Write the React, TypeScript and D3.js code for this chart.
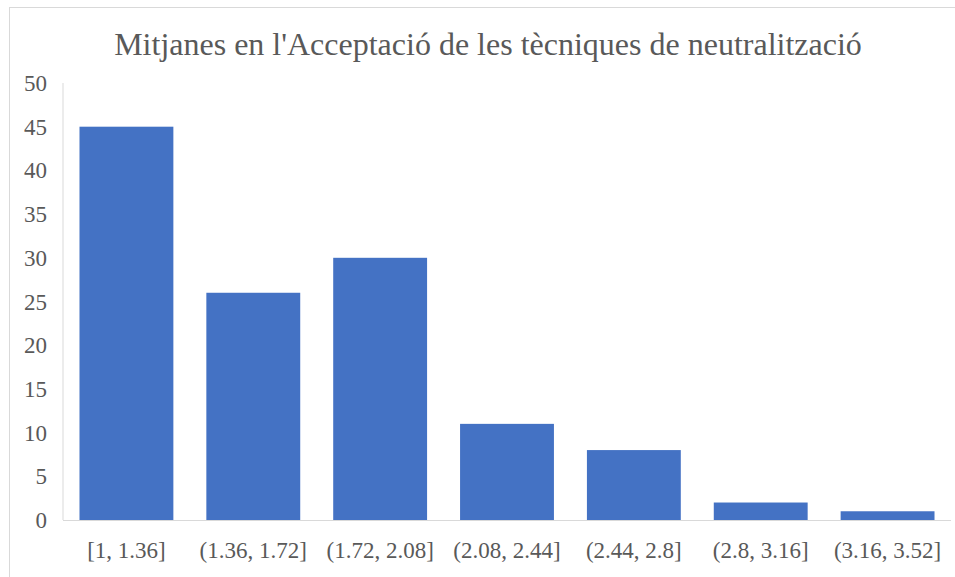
import React, { useEffect, useRef } from "react";
import * as d3 from "d3";

const categories = [
  "[1, 1.36]",
  "(1.36, 1.72]",
  "(1.72, 2.08]",
  "(2.08, 2.44]",
  "(2.44, 2.8]",
  "(2.8, 3.16]",
  "(3.16, 3.52]",
];
const counts = [45, 26, 30, 11, 8, 2, 1];
const yTicks = [0, 5, 10, 15, 20, 25, 30, 35, 40, 45, 50];

const title = "Mitjanes en l'Acceptació de les tècniques de neutralització";

const App = () => {
  const ref: any = useRef();
  const width = 955;
  const height = 577;
  const plot = { left: 63, right: 951, top: 83, bottom: 520 };

  useEffect(() => {
    const svg = d3.select(ref.current);
    svg.selectAll("*").remove();

    const font = "'Liberation Serif', 'Times New Roman', serif";
    const textColor = "#595959";

    // chart border
    svg
      .append("rect")
      .attr("x", 9.5)
      .attr("y", 7.5)
      .attr("width", width + 20)
      .attr("height", height + 20)
      .attr("fill", "#fff")
      .attr("stroke", "#d9d9d9");

    svg
      .append("text")
      .attr("x", 488)
      .attr("y", 55)
      .attr("text-anchor", "middle")
      .attr("font-family", font)
      .attr("font-size", 32)
      .attr("fill", textColor)
      .text(title);

    const xScale = d3
      .scaleBand()
      .domain(categories)
      .range([plot.left, plot.right])
      .paddingInner(0.26)
      .paddingOuter(0.13);

    const yScale = d3
      .scaleLinear()
      .domain([0, 50])
      .range([plot.bottom, plot.top]);

    // y axis line
    svg
      .append("line")
      .attr("x1", plot.left)
      .attr("x2", plot.left)
      .attr("y1", plot.top)
      .attr("y2", plot.bottom)
      .attr("stroke", "#d9d9d9");

    const data = categories.map((c, i) => ({ name: c, value: counts[i] }));

    svg
      .append("g")
      .selectAll("rect")
      .data(data)
      .join("rect")
      .attr("x", (d) => xScale(d.name) || 0)
      .attr("y", (d) => yScale(d.value))
      .attr("width", xScale.bandwidth())
      .attr("height", (d) => yScale(0) - yScale(d.value))
      .attr("fill", "#4472c4");

    // x axis line
    svg
      .append("line")
      .attr("x1", plot.left)
      .attr("x2", plot.right)
      .attr("y1", plot.bottom + 0.5)
      .attr("y2", plot.bottom + 0.5)
      .attr("stroke", "#d9d9d9");

    svg
      .append("g")
      .selectAll("text")
      .data(yTicks)
      .join("text")
      .attr("x", 47)
      .attr("y", (d) => yScale(d) + 8)
      .attr("text-anchor", "end")
      .attr("font-family", font)
      .attr("font-size", 23)
      .attr("fill", textColor)
      .text((d) => d);

    svg
      .append("g")
      .selectAll("text")
      .data(categories)
      .join("text")
      .attr("x", (d) => (xScale(d) || 0) + xScale.bandwidth() / 2)
      .attr("y", 558)
      .attr("text-anchor", "middle")
      .attr("font-family", font)
      .attr("font-size", 23)
      .attr("fill", textColor)
      .text((d) => d);
  }, []);

  return (
    <svg
      ref={ref}
      width={width}
      height={height}
      style={{ position: "absolute", left: 0, top: 0, background: "#fff" }}
    ></svg>
  );
};

export default App;
